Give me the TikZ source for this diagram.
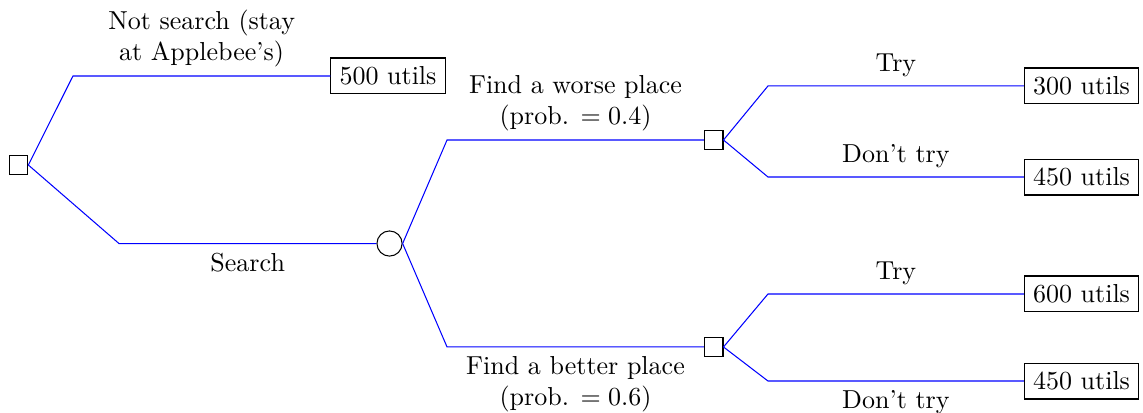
\documentclass[tikz,border=0pt]{standalone}
\usepackage{tikz}
\usetikzlibrary{shapes.geometric}
\usetikzlibrary{arrows,shapes}

\tikzset{
  decision/.style={rectangle, draw, fill=white, minimum size=0.25cm, inner sep=0pt},
  chance/.style={circle, draw, fill=white, minimum size=0.34cm, inner sep=0pt},
  payoff/.style={rectangle, draw, text=black},
  branch/.style={draw=blue}
}

\begin{document}
\begin{tikzpicture}
\useasboundingbox (0,0) rectangle (15.446,5.581);

 \node[decision] (d1) at (0.251,3.351) {};
 \node[chance] (c1) at (5.264,2.29) {};
 \node[decision] (d2) at (9.645,3.689) {};
 \node[decision] (d3) at (9.645,0.892) {};

 \node[payoff] (p1) at (5.243,4.554) {500 utils};
 \node[payoff] (p2) at (14.615,4.419) {300 utils};
 \node[payoff] (p3) at (14.615,3.189) {450 utils};
 \node[payoff] (p4) at (14.615,1.608) {600 utils};
 \node[payoff] (p5) at (14.615,0.432) {450 utils};

 \coordinate (k1) at (0.986,4.554);
 \coordinate (k2) at (1.608,2.29);
 \coordinate (k3) at (6.041,3.689);
 \coordinate (k4) at (6.041,0.892);
 \coordinate (k5) at (10.378,4.419);
 \coordinate (k6) at (10.378,3.189);
 \coordinate (k7) at (10.378,1.608);
 \coordinate (k8) at (10.378,0.432);

\draw [branch] (d1.east) -- (k1) -- node[above, align=center] {Not search (stay\\at Applebee's)} (p1.west);
\draw [branch] (d1.east) -- (k2) -- node[below] {Search} (c1.west);

\draw [branch] (c1.east) -- (k3) -- node[above, align=center] {Find a worse place\\(prob. $=0.4$)} (d2.west);
\draw [branch] (c1.east) -- (k4) -- node[below, align=center] {Find a better place\\(prob. $=0.6$)} (d3.west);

\draw [branch] (d2.east) -- (k5) -- node[above] {Try} (p2.west);
\draw [branch] (d2.east) -- (k6) -- node[above] {Don't try} (p3.west);

\draw [branch] (d3.east) -- (k7) -- node[above] {Try} (p4.west);
\draw [branch] (d3.east) -- (k8) -- node[below] {Don't try} (p5.west);

\end{tikzpicture}
\end{document}
